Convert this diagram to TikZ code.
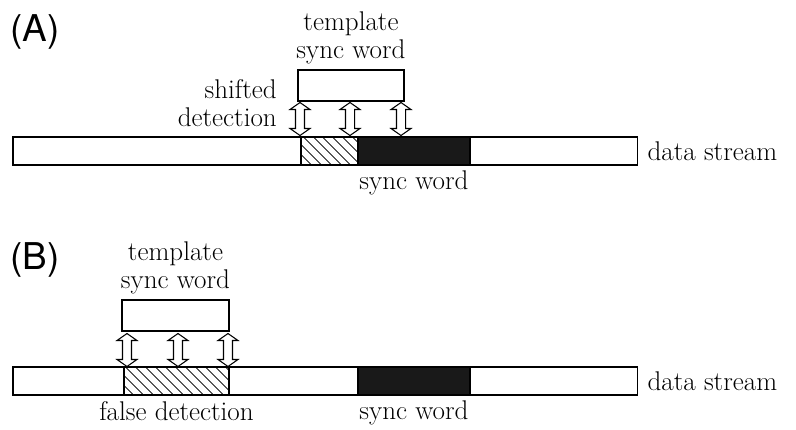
\documentclass[tikz,border=0pt]{standalone}
\usepackage{fontspec}
\newfontfamily\panelfont{TeX Gyre Heros}
\usetikzlibrary{shapes.arrows, patterns.meta, positioning}

\tikzset{
  bar/.style={draw, line width=0.6pt, inner sep=0pt, outer sep=0pt, minimum height=0.56cm},
  hatched/.style={bar, pattern={Lines[angle=-45, distance=4pt, line width=0.5pt]}},
  syncbar/.style={bar, fill=black!90},
  tmplbox/.style={draw, line width=0.6pt, inner sep=0pt, outer sep=0pt, minimum height=0.62cm},
  bothway/.style={draw, fill=white, line width=0.6pt, shape=double arrow, rotate=90,
    inner xsep=0pt, inner ysep=0.08cm, minimum height=0.66cm,
    double arrow head extend=0.11cm, double arrow tip angle=110},
  panel/.style={font=\panelfont\fontsize{21}{24}\selectfont, inner sep=0pt},
  txt/.style={align=center}
}

\begin{document}
\begin{tikzpicture}[x=0.02cm, y=-0.02cm, font=\fontsize{15.4}{16}\selectfont]
\useasboundingbox (0,0) rectangle (796,430);

% (A) shifted detection
\node[panel, anchor=north west] (labelA) at (10,14) {(A)};
\node[bar, anchor=west, minimum width=12.5cm] (streamA) at (13,151) {};
\node[hatched, anchor=west, minimum width=1.14cm] (shiftA) at (301,151) {};
\node[syncbar, anchor=west, minimum width=2.24cm] (syncA) at (358,151) {};
\node[tmplbox, anchor=north west, minimum width=2.12cm] (tmplA) at (298,70) {};
\node[txt, above=0pt of tmplA] (tmplAtext) {template\\sync word};
\node[bothway] (arrA1) at (300,119) {};
\node[bothway] (arrA2) at (350,119) {};
\node[bothway] (arrA3) at (401,119) {};
\node[align=right, anchor=east] (shiftAtext) at (283,103) {shifted\\detection};
\node[below=0pt of syncA] (syncAtext) {sync word};
\node[right=2pt of streamA] (streamAtext) {data stream};

% (B) false detection
\node[panel, anchor=north west] (labelB) at (10,242) {(B)};
\node[bar, anchor=west, minimum width=12.5cm] (streamB) at (13,381) {};
\node[hatched, anchor=west, minimum width=2.1cm] (falseB) at (124,381) {};
\node[syncbar, anchor=west, minimum width=2.24cm] (syncB) at (358,381) {};
\node[tmplbox, anchor=north west, minimum width=2.14cm] (tmplB) at (122,300) {};
\node[txt, above=0pt of tmplB] (tmplBtext) {template\\sync word};
\node[bothway] (arrB1) at (127,350) {};
\node[bothway] (arrB2) at (178,350) {};
\node[bothway] (arrB3) at (228,350) {};
\node[below=0pt of falseB] (falseBtext) {false detection};
\node[below=0pt of syncB] (syncBtext) {sync word};
\node[right=2pt of streamB] (streamBtext) {data stream};
\end{tikzpicture}
\end{document}
